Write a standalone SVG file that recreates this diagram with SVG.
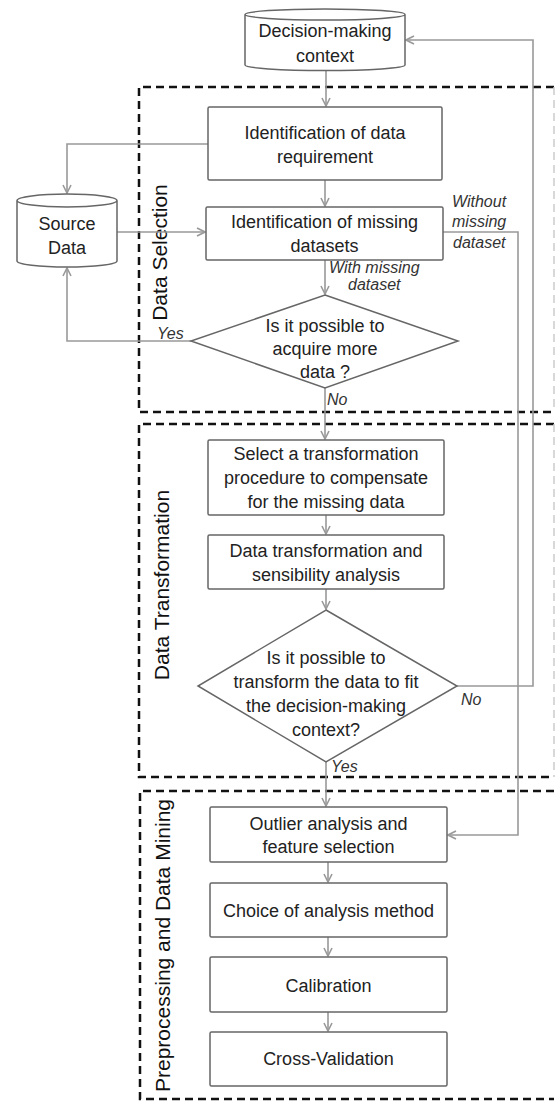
<svg xmlns="http://www.w3.org/2000/svg" width="555" height="1101" viewBox="0 0 555 1101">
<style>
.bg{fill:#fff}
.node{fill:#fff;stroke:#666;stroke-width:1.5}
.t{font-family:"Liberation Sans",Arial,sans-serif;font-size:18px;fill:#222;text-anchor:middle}
.lbl{font-family:"Liberation Sans",Arial,sans-serif;font-size:16px;font-style:italic;fill:#333}
.sec{font-family:"Liberation Sans",Arial,sans-serif;font-size:21px;fill:#111;text-anchor:middle}
.dash{fill:none;stroke:#111;stroke-width:2.5;stroke-dasharray:8 5}
.dashr{fill:none;stroke:#ccc;stroke-width:1.5;stroke-dasharray:8 5}
.c{fill:none;stroke:#999;stroke-width:1.6}
</style>
<defs>
<marker id="ah" viewBox="0 0 10 10" refX="9" refY="5" markerWidth="10" markerHeight="10" markerUnits="userSpaceOnUse" orient="auto">
<path d="M1,1 L9,5 L1,9" fill="none" stroke="#999" stroke-width="1.6"/>
</marker>
</defs>
<rect class="bg" x="0" y="0" width="555" height="1101"/>

<g id="sections">
<path class="dash" d="M554,87 H139 V412 H554"/>
<path class="dashr" d="M554,87 V412"/>
<path class="dash" d="M554,424 H139 V777 H554"/>
<path class="dashr" d="M554,424 V777"/>
<path class="dash" d="M554,791 H140 V1099 H554"/>
<text class="sec" transform="translate(167,252.5) rotate(-90)">Data Selection</text>
<text class="sec" transform="translate(169,585) rotate(-90)">Data Transformation</text>
<text class="sec" transform="translate(170,945.5) rotate(-90)">Preprocessing and Data Mining</text>
</g>

<g id="connectors">
<path class="c" d="M326,71 V106" marker-end="url(#ah)"/>
<path class="c" d="M325,180 V206" marker-end="url(#ah)"/>
<path class="c" d="M208,144 H67 V193" marker-end="url(#ah)"/>
<path class="c" d="M117,232 H205" marker-end="url(#ah)"/>
<path class="c" d="M325,260 V294" marker-end="url(#ah)"/>
<path class="c" d="M191,341 H67 V268" marker-end="url(#ah)"/>
<path class="c" d="M325,388 V439" marker-end="url(#ah)"/>
<path class="c" d="M326,515 V534" marker-end="url(#ah)"/>
<path class="c" d="M326,589 V609" marker-end="url(#ah)"/>
<path class="c" d="M326,762 V806" marker-end="url(#ah)"/>
<path class="c" d="M328,862 V882" marker-end="url(#ah)"/>
<path class="c" d="M328,937 V956" marker-end="url(#ah)"/>
<path class="c" d="M328,1012 V1031" marker-end="url(#ah)"/>
<path class="c" d="M443,232 H518 V835 H448" marker-end="url(#ah)"/>
<path class="c" d="M457,686 H533 V40 H406" marker-end="url(#ah)"/>
<text class="lbl" x="452" y="207">Without</text>
<text class="lbl" x="452" y="227">missing</text>
<text class="lbl" x="453" y="248">dataset</text>
<text class="lbl" x="329" y="273">With missing</text>
<text class="lbl" x="348" y="290">dataset</text>
<text class="lbl" x="157" y="339">Yes</text>
<text class="lbl" x="327" y="405">No</text>
<text class="lbl" x="461" y="705">No</text>
<text class="lbl" x="331" y="772">Yes</text>
</g>

<g id="decision-context">
<path class="node" d="M245,14.5 V65 A80,5.5 0 0 0 405,65 V14.5 A80,5.5 0 0 0 245,14.5 A80,5.5 0 0 0 405,14.5"/>
<text class="t" x="325" y="37">Decision-making</text>
<text class="t" x="325" y="62">context</text>
</g>

<g id="source-data">
<path class="node" d="M17,200.5 V261 A50,6 0 0 0 117,261 V200.5 A50,6.5 0 0 0 17,200.5 A50,6.5 0 0 0 117,200.5"/>
<text class="t" x="67" y="230">Source</text>
<text class="t" x="67" y="254">Data</text>
</g>

<g id="data-requirement">
<rect class="node" x="208" y="107" width="234" height="73" rx="1.5"/>
<text class="t" x="325" y="139">Identification of data</text>
<text class="t" x="325" y="163">requirement</text>
</g>

<g id="missing-datasets">
<rect class="node" x="206" y="207" width="237" height="53" rx="1.5"/>
<text class="t" x="324.5" y="228">Identification of missing</text>
<text class="t" x="324.5" y="252">datasets</text>
</g>

<g id="acquire-more">
<polygon class="node" points="325,295 458,341 325,388 191,341"/>
<text class="t" x="325" y="332">Is it possible to</text>
<text class="t" x="325" y="355">acquire more</text>
<text class="t" x="325" y="378">data ?</text>
</g>

<g id="select-transformation">
<rect class="node" x="208" y="440" width="236" height="75" rx="1.5"/>
<text class="t" x="326" y="460">Select a transformation</text>
<text class="t" x="326" y="484">procedure to compensate</text>
<text class="t" x="326" y="508">for the missing data</text>
</g>

<g id="transformation-analysis">
<rect class="node" x="208" y="535" width="236" height="54" rx="1.5"/>
<text class="t" x="326" y="557">Data transformation and</text>
<text class="t" x="326" y="581">sensibility analysis</text>
</g>

<g id="transform-fit">
<polygon class="node" points="326,610 457,686 326,762 198,686"/>
<text class="t" x="326" y="664">Is it possible to</text>
<text class="t" x="326" y="688">transform the data to fit</text>
<text class="t" x="326" y="712">the decision-making</text>
<text class="t" x="326" y="736">context?</text>
</g>

<g id="outlier">
<rect class="node" x="210" y="807" width="237" height="55" rx="1.5"/>
<text class="t" x="328.5" y="830">Outlier analysis and</text>
<text class="t" x="328.5" y="853">feature selection</text>
</g>

<g id="choice-method">
<rect class="node" x="210" y="883" width="237" height="54" rx="1.5"/>
<text class="t" x="328.5" y="917">Choice of analysis method</text>
</g>

<g id="calibration">
<rect class="node" x="210" y="957" width="237" height="55" rx="1.5"/>
<text class="t" x="328.5" y="992">Calibration</text>
</g>

<g id="cross-validation">
<rect class="node" x="210" y="1032" width="237" height="54" rx="1.5"/>
<text class="t" x="328.5" y="1065">Cross-Validation</text>
</g>
</svg>
